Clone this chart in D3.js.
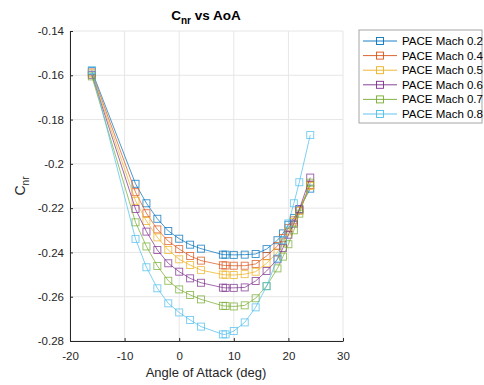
<!DOCTYPE html>
<html>
<head>
<meta charset="utf-8">
<script src="https://cdn.jsdelivr.net/npm/d3@7/dist/d3.min.js"></script>
<style>
  body { margin: 0; background: #fff; }
  text { font-family: "Liberation Sans", Arial, sans-serif; }
</style>
</head>
<body>
<svg id="chart" width="484" height="385"></svg>
<script>
// angle of attack values (deg)
let aoa = [-16, -8, -6, -4, -2, 0, 2, 4, 8, 8.5, 10, 12, 14, 16, 18, 19, 20, 21, 22, 24];

let seriesNames = ["PACE Mach 0.2", "PACE Mach 0.4", "PACE Mach 0.5", "PACE Mach 0.6", "PACE Mach 0.7", "PACE Mach 0.8"];
let seriesColors = ["#0072BD", "#D95319", "#EDB120", "#7E2F8E", "#77AC30", "#4DBEEE"];

let mach02 = [-0.1580, -0.2090, -0.2178, -0.2248, -0.2303, -0.2338, -0.2365, -0.2383, -0.2410, -0.2410, -0.2411, -0.2410, -0.2407, -0.2385, -0.2345, -0.2314, -0.2275, -0.2245, -0.2205, -0.2112];
let mach04 = [-0.1587, -0.2128, -0.2223, -0.2296, -0.2349, -0.2385, -0.2416, -0.2437, -0.2458, -0.2459, -0.2460, -0.2460, -0.2452, -0.2416, -0.2371, -0.2335, -0.2290, -0.2255, -0.2210, -0.2095];
let mach05 = [-0.1592, -0.2167, -0.2258, -0.2332, -0.2389, -0.2431, -0.2457, -0.2480, -0.2500, -0.2501, -0.2502, -0.2498, -0.2487, -0.2449, -0.2400, -0.2355, -0.2305, -0.2262, -0.2212, -0.2100];
let mach06 = [-0.1598, -0.2204, -0.2306, -0.2389, -0.2449, -0.2487, -0.2517, -0.2537, -0.2559, -0.2560, -0.2560, -0.2558, -0.2529, -0.2484, -0.2431, -0.2380, -0.2320, -0.2270, -0.2205, -0.2062];
let mach07 = [-0.1605, -0.2264, -0.2373, -0.2461, -0.2528, -0.2567, -0.2592, -0.2612, -0.2641, -0.2642, -0.2644, -0.2639, -0.2607, -0.2552, -0.2472, -0.2419, -0.2363, -0.2300, -0.2225, -0.2085];
let mach08 = [-0.1577, -0.2339, -0.2467, -0.2562, -0.2630, -0.2671, -0.2705, -0.2735, -0.2770, -0.2770, -0.2755, -0.2716, -0.2648, -0.2553, -0.2427, -0.2345, -0.2269, -0.2178, -0.2083, -0.1870];

let allSeries = [mach02, mach04, mach05, mach06, mach07, mach08];

let xTicks = [-20, -10, 0, 10, 20, 30];
let yTicks = [-0.14, -0.16, -0.18, -0.2, -0.22, -0.24, -0.26, -0.28];

let svg = d3.select("#chart");
let plotLeft = 70, plotRight = 343, plotTop = 31, plotBottom = 341;
let axisColor = "#262626";
let gridColor = "#e6e6e6";

let x = d3.scaleLinear().domain([-20, 30]).range([plotLeft, plotRight]);
let y = d3.scaleLinear().domain([-0.28, -0.14]).range([plotBottom, plotTop]);

// grid
svg.append("g").selectAll("line")
  .data(xTicks)
  .enter().append("line")
  .attr("x1", d => x(d)).attr("x2", d => x(d))
  .attr("y1", plotTop).attr("y2", plotBottom)
  .attr("stroke", gridColor).attr("stroke-width", 1);
svg.append("g").selectAll("line")
  .data(yTicks)
  .enter().append("line")
  .attr("x1", plotLeft).attr("x2", plotRight)
  .attr("y1", d => y(d)).attr("y2", d => y(d))
  .attr("stroke", gridColor).attr("stroke-width", 1);

// axes (hyphen minus, like matlab)
let xAxis = svg.append("g")
  .attr("transform", "translate(0," + plotBottom + ")")
  .call(d3.axisBottom(x).tickValues(xTicks).tickSizeInner(-3).tickSizeOuter(0).tickPadding(11).tickFormat(d => String(d)));
let yAxis = svg.append("g")
  .attr("transform", "translate(" + plotLeft + ",0)")
  .call(d3.axisLeft(y).tickValues(yTicks).tickSizeInner(-3).tickSizeOuter(0).tickPadding(6).tickFormat(d => String(+d.toFixed(2))));

[xAxis, yAxis].forEach(function(a) {
  a.select(".domain").attr("stroke", axisColor);
  a.selectAll(".tick line").attr("stroke", axisColor);
  a.selectAll("text")
    .style("font-family", "Liberation Sans, Arial, sans-serif")
    .style("font-size", "11.5px")
    .attr("fill", axisColor);
});

// series lines and markers
let line = d3.line()
  .x((d, i) => x(aoa[i]))
  .y(d => y(d));

allSeries.forEach(function(s, k) {
  svg.append("path")
    .datum(s)
    .attr("d", line)
    .attr("fill", "none")
    .attr("stroke", seriesColors[k])
    .attr("stroke-width", 0.9)
    .attr("opacity", 0.8);
  svg.append("g").selectAll("rect")
    .data(s)
    .enter().append("rect")
    .attr("x", (d, i) => x(aoa[i]) - 3.5)
    .attr("y", d => y(d) - 3.5)
    .attr("width", 7).attr("height", 7)
    .attr("fill", "none")
    .attr("stroke", seriesColors[k])
    .attr("stroke-width", 0.9)
    .attr("opacity", 0.8);
});

// title
let title = svg.append("text")
  .attr("x", 206).attr("y", 20)
  .attr("text-anchor", "middle")
  .style("font-weight", "bold")
  .style("font-size", "13.5px")
  .attr("fill", "#000");
title.append("tspan").text("C");
title.append("tspan").text("nr").attr("dy", 4).style("font-size", "10px");
title.append("tspan").text(" vs AoA").attr("dy", -4);

// axis labels
svg.append("text")
  .attr("x", 206).attr("y", 377)
  .attr("text-anchor", "middle")
  .style("font-size", "13px")
  .attr("fill", axisColor)
  .text("Angle of Attack (deg)");

let yl = svg.append("text")
  .attr("transform", "translate(25," + ((plotTop + plotBottom) / 2) + ") rotate(-90)")
  .attr("text-anchor", "middle")
  .style("font-size", "14px")
  .attr("fill", axisColor);
yl.append("tspan").text("C");
yl.append("tspan").text("nr").attr("dy", 4).style("font-size", "10px");

// legend
let lg = svg.append("g").attr("transform", "translate(359,30)");
lg.append("rect")
  .attr("x", 0).attr("y", 0)
  .attr("width", 123).attr("height", 93)
  .attr("fill", "#fff")
  .attr("stroke", "#a6a6a6")
  .attr("stroke-width", 1);
seriesNames.forEach(function(name, k) {
  let yy = 11 + k * 14.6;
  lg.append("line")
    .attr("x1", 4).attr("x2", 38)
    .attr("y1", yy).attr("y2", yy)
    .attr("stroke", seriesColors[k])
    .attr("stroke-width", 0.9);
  lg.append("rect")
    .attr("x", 21 - 3.5).attr("y", yy - 3.5)
    .attr("width", 7).attr("height", 7)
    .attr("fill", "none")
    .attr("stroke", seriesColors[k])
    .attr("stroke-width", 0.9);
  lg.append("text")
    .attr("x", 43).attr("y", yy + 4)
    .style("font-size", "11.5px")
    .attr("fill", "#000")
    .text(name);
});
</script>
</body>
</html>
